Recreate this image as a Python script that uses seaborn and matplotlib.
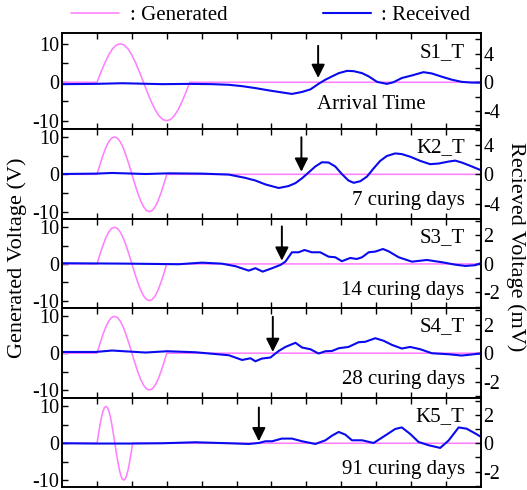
import numpy as np
import pandas as pd
import matplotlib
matplotlib.use("Agg")
import matplotlib.pyplot as plt
import seaborn as sns
from matplotlib.ticker import MultipleLocator, FixedLocator, NullFormatter
from matplotlib.lines import Line2D

sns.set_theme(style="ticks", rc={"axes.edgecolor": "black", "text.color": "black",
                                 "xtick.color": "black", "ytick.color": "black",
                                 "axes.labelcolor": "black"})
plt.rcParams["font.family"] = ["Liberation Serif", "DejaVu Serif"]
plt.rcParams["axes.unicode_minus"] = False

# ---------------- data ----------------
samples = ["S1_T", "K2_T", "S3_T", "S4_T", "K5_T"]
notes = ["Arrival Time", "7 curing days", "14 curing days", "28 curing days", "91 curing days"]

# generated pulse: one cycle (V) between start and end time
gen_start = [1.0, 1.0, 1.0, 1.0, 1.0]
gen_end = [3.66, 3.0, 3.0, 3.0, 2.02]
gen_cycle = [0, 2.6, 5.0, 7.1, 8.7, 9.7, 10, 9.7, 8.7, 7.1, 5.0, 2.6, 0,
             -2.6, -5.0, -7.1, -8.7, -9.7, -10, -9.7, -8.7, -7.1, -5.0, -2.6, 0]

# received signals (mV)
rx1 = [0, 0.96, 1.72, 2.87, 3.63, 4.30, 4.78, 5.16, 5.54, 5.92, 6.21, 6.59, 6.88, 7.12, 7.35,
       7.55, 7.74, 7.93, 8.17, 8.36, 8.60, 8.79, 9.03, 9.31, 9.50, 9.74, 10.03, 10.36, 10.60,
       10.89, 11.17, 11.46, 11.75, 12.0]
ry1 = [-0.27, -0.23, -0.14, -0.27, -0.23, -0.27, -0.36, -0.55, -0.82, -1.14, -1.36, -1.64,
       -1.36, -1.0, -0.23, 0.36, 0.82, 1.27, 1.59, 1.55, 1.27, 0.82, 0.05, -0.23, 0.0, 0.59,
       0.95, 1.41, 1.23, 0.77, 0.36, 0.05, -0.05, -0.05]

rx2 = [0, 0.96, 1.43, 2.39, 3.06, 4.01, 4.78, 5.25, 5.54, 5.83, 6.21, 6.49, 6.69, 6.88, 7.07,
       7.26, 7.45, 7.64, 7.83, 8.02, 8.21, 8.36, 8.55, 8.74, 8.93, 9.12, 9.31, 9.55, 9.74, 9.98,
       10.27, 10.55, 10.79, 11.08, 11.27, 11.46, 11.70, 12.0]
ry2 = [0.04, 0.09, 0.18, 0.04, 0.13, 0.09, -0.04, -0.48, -0.84, -1.37, -1.85, -1.59, -1.19,
       -0.53, 0.26, 1.06, 1.63, 1.59, 1.06, 0.04, -0.84, -1.15, -0.93, -0.31, 0.79, 1.81, 2.47,
       2.82, 2.73, 2.38, 1.81, 1.37, 1.45, 1.72, 1.85, 1.59, 1.15, 0.57]

rx3 = [0, 1.91, 3.34, 4.01, 4.58, 4.97, 5.35, 5.54, 5.75, 6.02, 6.26, 6.40, 6.59, 6.78, 6.95,
       7.16, 7.40, 7.64, 7.83, 8.02, 8.26, 8.45, 8.60, 8.79, 8.98, 9.20, 9.36, 9.65, 10.03,
       10.46, 10.89, 11.27, 11.56, 11.84, 12.0]
ry3 = [0.05, 0.02, -0.02, 0.09, 0.02, -0.16, -0.47, -0.30, -0.54, -0.30, -0.07, 0.16, 0.82,
       0.82, 0.98, 0.82, 0.82, 0.51, 0.47, 0.19, 0.42, 0.35, 0.47, 0.82, 0.87, 1.05, 0.89, 0.47,
       0.16, 0.28, 0.12, -0.05, -0.14, -0.09, 0.05]

rx4 = [0, 0.96, 1.43, 2.39, 3.01, 3.82, 4.78, 5.16, 5.40, 5.54, 5.73, 5.97, 6.21, 6.40, 6.69,
       6.88, 7.12, 7.35, 7.55, 7.74, 7.93, 8.21, 8.50, 8.69, 8.98, 9.22, 9.46, 9.74, 9.98,
       10.27, 10.60, 11.08, 11.46, 12.0]
ry4 = [0.09, 0.09, 0.19, 0.05, 0.14, 0.07, -0.14, -0.47, -0.35, -0.56, -0.37, -0.30, 0.16,
       0.44, 0.73, 0.40, 0.28, -0.02, 0.14, 0.16, 0.35, 0.44, 0.77, 0.80, 1.05, 0.87, 0.58,
       0.33, 0.44, 0.28, 0.0, -0.07, -0.16, -0.02]

rx5 = [0, 0.96, 1.91, 2.87, 3.82, 4.78, 5.35, 5.64, 5.83, 6.02, 6.30, 6.59, 6.88, 7.26, 7.55,
       7.74, 7.93, 8.12, 8.31, 8.60, 8.93, 9.26, 9.55, 9.74, 9.98, 10.22, 10.51, 10.84, 11.08,
       11.37, 11.60, 11.84, 12.0]
ry5 = [0, -0.02, -0.02, 0, 0.07, 0, -0.05, 0.02, 0.14, 0.14, 0.33, 0.33, 0.14, -0.05, 0.21,
       0.54, 0.80, 0.61, 0.21, 0.21, 0.02, 0.54, 1.01, 1.12, 0.66, 0.09, -0.14, -0.33, 0.19,
       1.12, 1.03, 0.70, 0.47]

rec_x = [rx1, rx2, rx3, rx4, rx5]
rec_y = [ry1, ry2, ry3, ry4, ry5]

arrival_x = [7.34, 6.86, 6.30, 6.04, 5.64]
arrow_tip = [0.6, 0.35, 0.23, 0.09, 0.14]
arrow_tail = [5.1, 5.0, 2.64, 2.55, 2.53]

left_lim = [(-12.1, 12.86), (-11.9, 12.2), (-12.07, 12.34), (-12.07, 12.23), (-11.9, 12.4)]
right_lim = [(-6.52, 6.92), (-6.0, 6.15), (-3.11, 3.18), (-3.1, 3.15), (-3.1, 3.23)]
right_major = [4, 4, 2, 2, 2]

PINK = "#ff80ff"
BLUE = "#0a0aee"
FS = 15
TFS = 14.5
LFS = 16

fig = plt.figure(figsize=(5.27, 4.90), dpi=100)
gs = fig.add_gridspec(5, 1, height_ratios=[96, 90, 89.5, 89.5, 89.5], hspace=0,
                      left=0.118, right=0.912, top=0.933, bottom=0.006)

for i in range(5):
    ax = fig.add_subplot(gs[i])
    gx = [0.0] + list(np.linspace(gen_start[i], gen_end[i], len(gen_cycle))) + [12.0]
    gy = [0.0] + gen_cycle + [0.0]
    sns.lineplot(x=gx, y=gy, ax=ax, color=PINK, lw=1.15, estimator=None, sort=False)
    ax.set_xlim(0, 12)
    ax.set_ylim(*left_lim[i])
    ax.xaxis.set_major_locator(FixedLocator(np.arange(1, 12)))
    ax.xaxis.set_major_formatter(NullFormatter())
    ax.yaxis.set_major_locator(FixedLocator([-10, 0, 10]))
    ax.yaxis.set_minor_locator(FixedLocator([-5, 5]))
    ax.tick_params(axis="x", which="both", direction="in", top=True, bottom=True,
                   length=4, width=1)
    ax.tick_params(axis="y", which="both", direction="in", length=4, width=1,
                   labelsize=TFS, pad=2)
    for s in ax.spines.values():
        s.set_linewidth(1.2)
        s.set_color("black")

    ax2 = ax.twinx()
    sns.lineplot(x=rec_x[i], y=rec_y[i], ax=ax2, color=BLUE, lw=1.5, estimator=None, sort=False)
    ax2.set_ylim(*right_lim[i])
    m = right_major[i]
    ax2.yaxis.set_major_locator(FixedLocator([-m, 0, m]))
    ax2.yaxis.set_minor_locator(MultipleLocator(m / 2))
    ax2.tick_params(axis="y", which="both", direction="in", length=4, width=1,
                    labelsize=TFS, pad=2)
    ax2.set_xlim(0, 12)
    ax.set_ylabel("")
    ax2.set_ylabel("")
    for s in ax2.spines.values():
        s.set_linewidth(1.2)
        s.set_color("black")

    ax2.annotate("", xy=(arrival_x[i], arrow_tip[i]), xytext=(arrival_x[i], arrow_tail[i]),
                 arrowprops=dict(arrowstyle="-|>", color="black", lw=1.4,
                                 mutation_scale=20, shrinkA=0, shrinkB=0))

    ax2.text(0.962, 0.79, samples[i], transform=ax2.transAxes, ha="right", va="center",
             fontsize=FS)
    if i == 0:
        ax2.text(7.3, 0.25, notes[i], transform=ax2.get_xaxis_transform(), ha="left",
                 va="center", fontsize=FS)
    else:
        ax2.text(0.962, 0.20, notes[i], transform=ax2.transAxes, ha="right", va="center",
                 fontsize=FS)

fig.text(0.033, 0.474, "Generated Voltage (V)", rotation=90, ha="center", va="center",
         fontsize=LFS)
fig.text(0.979, 0.496, "Recieved Voltage (mV)", rotation=270, ha="center", va="center",
         fontsize=LFS)

handles = [Line2D([], [], color=PINK, lw=1.15), Line2D([], [], color=BLUE, lw=1.5)]
fig.legend(handles, [": Generated", ": Received"], loc="center",
           bbox_to_anchor=(0.514, 0.969), ncol=2, frameon=False, fontsize=FS,
           handlelength=2.3, handletextpad=0.5, columnspacing=4.6, borderpad=0)

fig.savefig("out.png", dpi=100)
